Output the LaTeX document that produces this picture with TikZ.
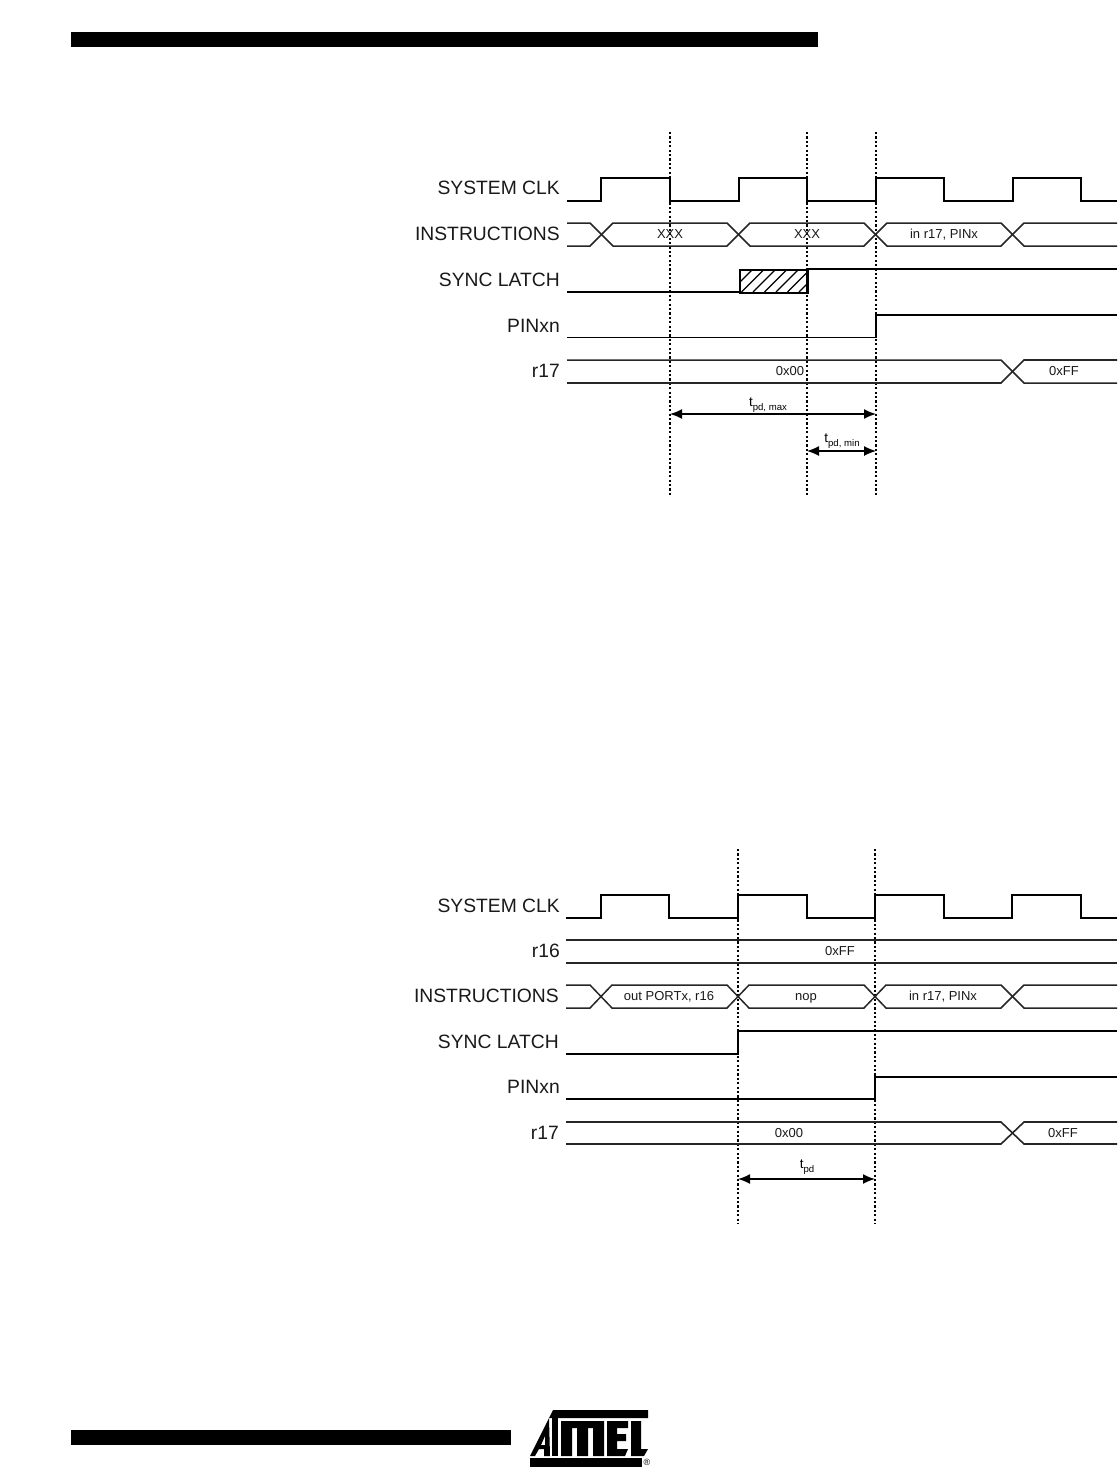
\documentclass[tikz,border=0pt]{standalone}
\usepackage{fontspec}
\setmainfont{Liberation Sans}
\usetikzlibrary{arrows.meta}
\tikzset{
  sig/.style={line width=1.6pt,line join=miter},
  thin sig/.style={line width=1.1pt},
  bus/.style={line width=1.5pt,draw=black!85},
  guide/.style={line width=1.6pt,dash pattern=on 2.2pt off 2.2pt},
  span/.style={line width=1.6pt,{Latex[length=12pt,width=10pt]}-{Latex[length=12pt,width=10pt]}},
  lab/.style={anchor=base east,font=\fontsize{19.3}{21}\selectfont,text=black!90,inner sep=0pt},
  val/.style={anchor=base,font=\fontsize{13}{15}\selectfont,text=black!90,inner sep=0pt},
  tlab/.style={anchor=base,font=\fontsize{13.5}{15}\selectfont,inner sep=0pt},
  bar/.style={fill=black,draw=none}
}
\newcommand{\subt}[1]{\raisebox{-4.6pt}{\fontsize{9.6}{11}\selectfont #1}}
\begin{document}
\begin{tikzpicture}[x=1pt,y=-1pt]
\useasboundingbox (0,0) rectangle (1117,1473);
\fill[white] (0,0) rectangle (1117,1473);
% header and footer bars
\node[bar,minimum width=747pt,minimum height=15pt,inner sep=0pt,anchor=north west] (headbar) at (71,32) {};
\node[bar,minimum width=440pt,minimum height=15pt,inner sep=0pt,anchor=north west] (footbar) at (71,1430) {};

%%% TOP DIAGRAM
\coordinate (ga1) at (670,132); \coordinate (ga2) at (670,496);
\coordinate (gb1) at (807,132); \coordinate (gb2) at (807,496);
\coordinate (gc1) at (876,132); \coordinate (gc2) at (876,496);
\draw[guide] (ga1)--(ga2); \draw[guide] (gb1)--(gb2); \draw[guide] (gc1)--(gc2);

\node[lab] (t1) at (560,194) {SYSTEM CLK};
\node[lab] (t2) at (560,240) {INSTRUCTIONS};
\node[lab] (t3) at (560,286) {SYNC LATCH};
\node[lab] (t4) at (560,332) {PINxn};
\node[lab] (t5) at (560,377) {r17};

\draw[sig] (567,201)-|(601,178)-|(670,201)-|(739,178)-|(807,201)-|(876,178)-|(944,201)-|(1013,178)-|(1081,201)--(1117,201);

\draw[bus] (567,223)--(590,223)--(613,246)--(727,246)--(750,223)--(864,223)--(887,246)--(1001,246)--(1024,223)--(1117,223);
\draw[bus] (567,246)--(590,246)--(613,223)--(727,223)--(750,246)--(864,246)--(887,223)--(1001,223)--(1024,246)--(1117,246);
\node[val] (i1) at (670,238) {XXX};
\node[val] (i2) at (807,238) {XXX};
\node[val] (i3) at (944,238) {in r17, PINx};

% hatched box
\begin{scope}
\clip (739,269) rectangle (807,292);
\foreach \k in {0,1,...,8}
  \draw[line width=1.3pt] (730+11.5*\k,292)--(753+11.5*\k,269);
\end{scope}
\node[draw,line width=1.5pt,minimum width=68pt,minimum height=23pt,inner sep=0pt,anchor=north west] (hatch) at (739,269) {};
\draw[sig] (567,292)--(739,292);
\draw[sig] (807,292)--(807,269)--(1117,269);

\draw[thin sig] (567,337.5)--(876,337.5);
\draw[sig] (876,337.5)--(876,315)--(1117,315);

\draw[bus] (567,360)--(1001,360)--(1024,383)--(1117,383);
\draw[bus,line width=1.6pt] (567,383)--(1001,383)--(1024,360)--(1117,360);
\node[val] (r1) at (790,375) {0x00};
\node[val] (r2) at (1064,375) {0xFF};

\draw[span] (ga1|-0,414)--(gc1|-0,414);
\node[tlab] (tmax) at (768,406) {t\subt{pd, max}};
\draw[span,line width=1.2pt] (gb1|-0,451)--(gc1|-0,451);
\node[tlab] (tmin) at (842,442) {t\subt{pd, min}};

%%% BOTTOM DIAGRAM
\coordinate (gd1) at (738,849); \coordinate (gd2) at (738,1224);
\coordinate (ge1) at (875,849); \coordinate (ge2) at (875,1224);
\draw[guide] (gd1)--(gd2); \draw[guide] (ge1)--(ge2);

\node[lab] (b1) at (560,912) {SYSTEM CLK};
\node[lab] (b2) at (560,957) {r16};
\node[lab] (b3) at (559,1002) {INSTRUCTIONS};
\node[lab] (b4) at (559,1048) {SYNC LATCH};
\node[lab] (b5) at (560,1093) {PINxn};
\node[lab] (b6) at (559,1139) {r17};

\draw[sig] (566,918)-|(601,895)-|(669,918)-|(738,895)-|(807,918)-|(875,895)-|(944,918)-|(1012,895)-|(1081,918)--(1117,918);

\draw[bus,line width=1.6pt] (566,940)--(1117,940);
\draw[bus,line width=1.6pt] (566,963)--(1117,963);
\node[val] (v1) at (840,955) {0xFF};

\draw[bus] (566,985)--(590,985)--(612,1008)--(727,1008)--(749,985)--(864,985)--(886,1008)--(1001,1008)--(1024,985)--(1117,985);
\draw[bus] (566,1008)--(590,1008)--(612,985)--(727,985)--(749,1008)--(864,1008)--(886,985)--(1001,985)--(1024,1008)--(1117,1008);
\node[val] (n1) at (669,1000) {out PORTx, r16};
\node[val] (n2) at (806,1000) {nop};
\node[val] (n3) at (943,1000) {in r17, PINx};

\draw[sig] (566,1054)-|(738,1031)--(1117,1031);
\draw[sig] (566,1099)-|(875,1077)--(1117,1077);
\draw[bus,line width=1.6pt] (566,1122)--(1001,1122)--(1024,1144)--(1117,1144);
\draw[bus,line width=1.6pt] (566,1144)--(1001,1144)--(1024,1122)--(1117,1122);
\node[val] (w1) at (789,1137) {0x00};
\node[val] (w2) at (1063,1137) {0xFF};

\draw[span] (gd1|-0,1179)--(ge1|-0,1179);
\node[tlab] (tpd) at (807,1168) {t\subt{pd}};

%%% LOGO
\fill (553,1410)--(648,1410)--(648,1418)--(549,1418)--cycle;
\fill (530,1458)--(642,1458)--(642,1467)--(530,1467)--cycle;
\fill[even odd rule] (549,1418)--(550,1456)--(544,1456)--(544,1449)--(539,1449)--(535,1456)--(530,1456)--cycle
   (545,1436)--(545,1445)--(541,1445)--cycle;
\fill (552,1418)--(558,1418)--(558,1456)--(552,1456)--cycle;
\fill (561,1421)--(604,1421)--(604,1456)--(593,1456)--(593,1428)--(588,1428)--(588,1456)--(577,1456)--(577,1428)--(572,1428)--(572,1456)--(561,1456)--cycle;
\fill (607,1421)--(628,1421)--(628,1428)--(617,1428)--(617,1434)--(626,1434)--(626,1441)--(617,1441)--(617,1449)--(628,1449)--(625,1456)--(607,1456)--cycle;
\fill (631,1421)--(641,1421)--(641,1449)--(648,1449)--(644,1456)--(631,1456)--cycle;
\node[font=\fontsize{9}{10}\selectfont,inner sep=0pt] (reg) at (647,1462) {®};
\end{tikzpicture}
\end{document}
